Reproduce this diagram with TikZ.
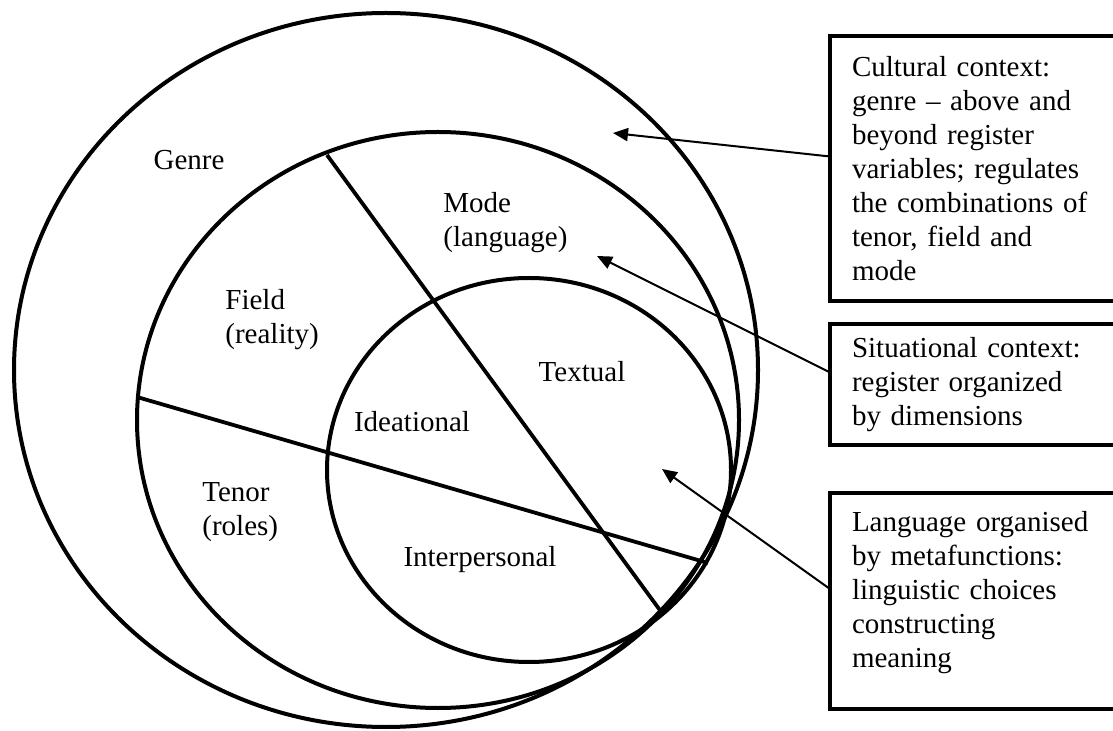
\documentclass[tikz,border=0pt]{standalone}
\usepackage{fontspec}
\setmainfont{Liberation Serif}
\usepackage{tikz}
\usetikzlibrary{shapes.geometric, arrows.meta, positioning}
\tikzstyle{ring} = [ellipse, draw=black, line width=2pt, inner sep=0pt]
\tikzstyle{divider} = [line width=1.9pt]
\tikzstyle{region} = [align=left, inner sep=0pt, font=\fontsize{14.5}{17}\selectfont]
\tikzstyle{infobox} = [rectangle, draw=black, line width=2.4pt, anchor=north west, outer sep=0pt, align=left, text width=125pt, inner xsep=11pt, font=\fontsize{14.5}{17}\selectfont]
\tikzstyle{arrow} = [line width=1pt, -{Triangle[length=7.5pt, width=6.5pt]}]

\begin{document}
\begin{tikzpicture}[x=0.5pt, y=-0.5pt]

\clip (0,0) rectangle (1113,731);

% context rings
\node (genre) [ring, minimum width=372pt, minimum height=357pt] at (386,370) {};
\node (register) [ring, minimum width=301pt, minimum height=288pt] at (438,420) {};
\node (lang) [ring, minimum width=202pt, minimum height=192pt] at (529,470) {};

\coordinate (d1) at (327,155);
\coordinate (d2) at (662,613);
\coordinate (h1) at (137,397);
\coordinate (h2) at (708,563);
\draw [divider] (d1) -- (d2);
\draw [divider] (h1) -- (h2);

\node (genrelbl) [region] at (189,160) {Genre};
\node (mode) [region, anchor=west] at (443,223) {Mode\\(language)};
\node (field) [region, anchor=west] at (225,320) {Field\\(reality)};
\node (tenor) [region, anchor=west] at (202,512) {Tenor\\(roles)};
\node (textual) [region] at (582,372) {Textual};
\node (ideational) [region] at (412,422) {Ideational};
\node (interpersonal) [region] at (480,560) {Interpersonal};

% explanation boxes
\node (cultural) [infobox, minimum height=132.5pt] at (830,36) {Cultural context:\\genre -- above and\\beyond register\\variables; regulates\\the combinations of\\tenor, field and\\mode};
\node (situational) [infobox, minimum height=60.5pt] at (830,324) {Situational context:\\register organized\\by dimensions};
\node (metafn) [infobox, minimum height=108pt] at (830,493) {Language organised\\by metafunctions:\\linguistic choices\\constructing\\meaning\\[-5pt]\mbox{}};

\coordinate (tip1) at (613,133);
\coordinate (tip2) at (597,256);
\coordinate (tip3) at (662,469);
\draw [arrow] ([yshift=6pt]cultural.west) -- (tip1);
\draw [arrow] ([yshift=6pt]situational.west) -- (tip2);
\draw [arrow] ([yshift=6pt]metafn.west) -- (tip3);

\end{tikzpicture}
\end{document}
